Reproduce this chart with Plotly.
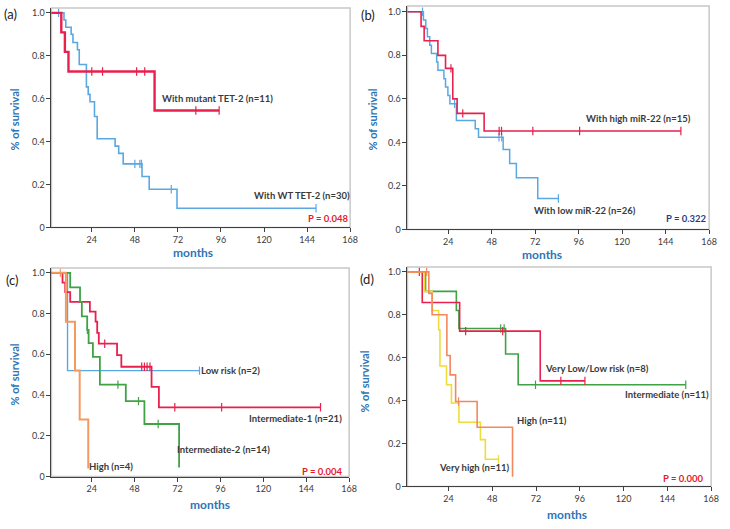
import numpy as np
import plotly.graph_objects as go

# ---- data (months, survival fraction) ----
# (a) TET-2
a_mut_t = [0, 7, 9, 11, 59, 95]
a_mut_s = [1.0, 0.909, 0.818, 0.727, 0.545, 0.545]
a_mut_c = [24, 30, 49, 53.5, 82, 95]
a_wt_t = [0, 8.5, 9.5, 12.5, 13.5, 16, 17, 21, 22, 23, 25.5, 27, 37, 39, 41.5, 52, 56, 71.5, 149]
a_wt_s = [1.0, 0.967, 0.933, 0.90, 0.862, 0.828, 0.759, 0.655, 0.62, 0.586, 0.517, 0.413,
          0.379, 0.345, 0.296, 0.237, 0.178, 0.089, 0.089]
a_wt_c = [5.5, 48, 50.8, 51.7, 68.3, 149]

# (b) miR-22
b_high_t = [0, 9, 10.7, 18.3, 22.5, 26.5, 28.9, 43.8, 152.4]
b_high_s = [1.0, 0.933, 0.867, 0.80, 0.74, 0.60, 0.533, 0.452, 0.452]
b_high_c = [25.5, 32, 52.1, 53.4, 70.7, 96.5, 152.4]
b_low_t = [0, 10.3, 11.6, 12.5, 13.8, 14.7, 17.6, 18.3, 21.6, 22.5, 23.8, 24.9, 28.5,
           38.9, 40.7, 54.3, 57.9, 61.6, 73.4, 84.8]
b_low_s = [1.0, 0.962, 0.923, 0.885, 0.846, 0.808, 0.769, 0.731, 0.692, 0.654, 0.615, 0.577,
           0.50, 0.462, 0.423, 0.367, 0.303, 0.237, 0.142, 0.142]
b_low_c = [9.8, 27.5, 52, 53.5, 84.8]

# (c) IPSS
c_low_t = [0, 10.5, 84.3]
c_low_s = [1.0, 0.52, 0.52]
c_low_c = [84.3]
c_high_t = [0, 9.6, 14.7, 17.3, 22.1]
c_high_s = [1.0, 0.76, 0.52, 0.28, 0.04]
c_high_c = [6.5]
c_int2_t = [0, 12, 17.5, 18.5, 21.5, 22.3, 24.7, 28.6, 43.1, 53.5, 72.9]
c_int2_s = [1.0, 0.929, 0.857, 0.786, 0.72, 0.655, 0.587, 0.451, 0.37, 0.258, 0.045]
c_int2_c = [21.6, 38.7, 50.2, 61.2]
c_int1_t = [0, 7.7, 9.2, 12, 23, 26.2, 27.1, 28, 38.2, 40.6, 57.5, 61.6, 152]
c_int1_s = [1.0, 0.952, 0.905, 0.857, 0.81, 0.76, 0.705, 0.652, 0.596, 0.539, 0.44, 0.34, 0.34]
c_int1_c = [31.3, 52, 53.5, 55, 56.6, 70.5, 96.7, 152]

# (d) IPSS-R
d_vl_t = [0, 9.6, 30.1, 74.3, 98.8]
d_vl_s = [1.0, 0.857, 0.724, 0.492, 0.492]
d_vl_c = [8, 33.4, 53.7, 85.6, 98.8]
d_int_t = [0, 11.4, 28.3, 29.7, 55.3, 62.2, 154.1]
d_int_s = [1.0, 0.909, 0.82, 0.736, 0.617, 0.474, 0.474]
d_int_c = [52.6, 54.5, 71.7, 154.1]
d_high_t = [0, 13.2, 15, 23.1, 24.9, 27.9, 39.7, 59.1]
d_high_s = [1.0, 0.9, 0.8, 0.61, 0.52, 0.396, 0.276, 0.045]
d_high_c = [12, 29.5]
d_vh_t = [0, 10.8, 15, 18.6, 19.3, 22.9, 25.6, 29.7, 41.5, 44.2, 51.4]
d_vh_s = [1.0, 0.909, 0.82, 0.73, 0.561, 0.474, 0.389, 0.299, 0.218, 0.127, 0.127]
d_vh_c = [51.4]

x_ticks = [24, 48, 72, 96, 120, 144, 168]
y_ticks = [0, 0.2, 0.4, 0.6, 0.8, 1.0]
y_ticktext = ['0', '0.2', '0.4', '0.6', '0.8', '1.0']

RED = '#E8204E'
BLUE = '#5AA8E2'
GREEN = '#3FA346'
ORANGE = '#F59A5E'
SALMON = '#F4875E'
YELLOW = '#EEDC3A'
TITLE_BLUE = '#2E75B6'
TXT = '#3A3A3A'
FONT = 'Lato'

W, H = 730, 529
# plot areas in pixels: (left, right, top, bottom)
boxes = {
    1: (52, 354, 7, 229),
    2: (412, 717, 5, 231),
    3: (52, 353, 270, 481),
    4: (412, 719, 269, 491),
}
yr_top = {1: 1.023, 2: 1.027, 3: 1.024, 4: 1.023}

fig = go.Figure()


def ax_name(i, kind):
    return kind if i == 1 else f'{kind}{i}'


def km(i, t, s, cens, color, width):
    xa, ya = ax_name(i, 'x'), ax_name(i, 'y')
    fig.add_trace(go.Scatter(x=t, y=s, mode='lines', line=dict(color=color, width=width, shape='hv'),
                             xaxis=xa, yaxis=ya, showlegend=False, hoverinfo='skip'))
    # censored marks sit on the curve level at their time
    idx = np.searchsorted(np.array(t), np.array(cens), side='right') - 1
    cy = [s[k] for k in idx]
    fig.add_trace(go.Scatter(x=cens, y=cy, mode='markers',
                             marker=dict(symbol='line-ns', size=6, line=dict(color=color, width=1.2)),
                             xaxis=xa, yaxis=ya, showlegend=False, hoverinfo='skip'))


km(1, a_wt_t, a_wt_s, a_wt_c, BLUE, 1.6)
km(1, a_mut_t, a_mut_s, a_mut_c, RED, 2.4)

km(2, b_low_t, b_low_s, b_low_c, BLUE, 1.5)
km(2, b_high_t, b_high_s, b_high_c, RED, 1.6)

km(3, c_low_t, c_low_s, c_low_c, BLUE, 1.4)
km(3, c_int1_t, c_int1_s, c_int1_c, RED, 1.8)
km(3, c_int2_t, c_int2_s, c_int2_c, GREEN, 1.8)
km(3, c_high_t, c_high_s, c_high_c, ORANGE, 2.0)

km(4, d_int_t, d_int_s, d_int_c, GREEN, 1.6)
km(4, d_vl_t, d_vl_s, d_vl_c, RED, 1.6)
km(4, d_vh_t, d_vh_s, d_vh_c, YELLOW, 1.6)
km(4, d_high_t, d_high_s, d_high_c, SALMON, 1.6)

layout = {}
shapes = []
for i, (l, r, t, b) in boxes.items():
    xk = 'xaxis' if i == 1 else f'xaxis{i}'
    yk = 'yaxis' if i == 1 else f'yaxis{i}'
    layout[xk] = dict(domain=[l / W, r / W], range=[1.5, 168], anchor=ax_name(i, 'y'),
                      tickvals=x_ticks, ticks='outside', ticklen=4, tickcolor='#404040',
                      showline=True, linecolor='#404040', linewidth=1, showgrid=False, zeroline=False,
                      ticklabeloverflow='allow',
                      tickfont=dict(family=FONT, size=9, color=TXT))
    layout[yk] = dict(domain=[1 - b / H, 1 - t / H], range=[0, yr_top[i]], anchor=ax_name(i, 'x'),
                      tickvals=y_ticks, ticktext=y_ticktext, ticks='outside', ticklen=4,
                      tickcolor='#404040', showline=True, linecolor='#404040', linewidth=1,
                      showgrid=False, zeroline=False,
                      tickfont=dict(family=FONT, size=9, color=TXT))
    shapes.append(dict(type='rect', xref=f'{ax_name(i, "x")} domain', yref=f'{ax_name(i, "y")} domain',
                       x0=0, x1=1, y0=0, y1=1, line=dict(color='#C8C8C8', width=1.5), layer='below'))

ann = []


def label(i, x, y, text, color=TXT, size=9.5):
    ann.append(dict(xref=ax_name(i, 'x'), yref=ax_name(i, 'y'), x=x, y=y, text=f'<b>{text}</b>',
                    xanchor='center', yanchor='middle',
                    showarrow=False, font=dict(family=FONT, size=size, color=color)))


def paper(x, y, text, size, color, angle=0, bold=True):
    ann.append(dict(xref='paper', yref='paper', x=x / W, y=1 - y / H,
                    xanchor='center', yanchor='middle',
                    text=f'<b>{text}</b>' if bold else text, textangle=angle, showarrow=False,
                    font=dict(family=FONT, size=size, color=color)))


label(1, 94, 0.60, 'With mutant TET-2 (n=11)')
label(1, 141, 0.147, 'With WT TET-2 (n=30)')
label(1, 155.7, 0.041, 'P = 0.048', color='#E8192C')

label(2, 129, 0.51, 'With high miR-22 (n=15)')
label(2, 99.7, 0.086, 'With low miR-22 (n=26)')
label(2, 155.3, 0.05, 'P = 0.322', color='#1F3F7F')

label(3, 101.4, 0.52, 'Low risk (n=2)')
label(3, 137.9, 0.284, 'Intermediate-1 (n=21)')
label(3, 97.5, 0.135, 'Intermediate-2 (n=14)')
label(3, 34.7, 0.048, 'High (n=4)')
label(3, 153.2, 0.024, 'P = 0.004', color='#E8192C')

label(4, 105.2, 0.548, 'Very Low/Low risk (n=8)')
label(4, 143.6, 0.429, 'Intermediate (n=11)')
label(4, 75.2, 0.306, 'High (n=11)')
label(4, 37.9, 0.087, 'Very high (n=11)')
label(4, 153.1, 0.037, 'P = 0.000', color='#E8192C')

# axis titles and panel letters
for (mx, my), (sx, sy), (px, py, pl) in zip(
        [(195, 254), (548, 256), (212, 509), (573, 519)],
        [(15, 120), (377, 120), (15, 378), (369, 385)],
        [(11, 13, '(a)'), (372, 14, '(b)'), (13, 282, '(c)'), (371, 281, '(d)')]):
    paper(mx, my, 'months', 12, TITLE_BLUE)
    paper(sx, sy, '% of survival', 11, TITLE_BLUE, angle=-90)
    paper(px, py, pl, 13, '#222222', bold=False)

fig.update_layout(width=W, height=H, margin=dict(l=0, r=0, t=0, b=0),
                  paper_bgcolor='white', plot_bgcolor='white',
                  shapes=shapes, annotations=ann, showlegend=False, **layout)

# page body margin would otherwise shift the figure by 8 px
fig.write_html('out.html', config={'displayModeBar': False},
               post_script="document.body.style.margin='0';")
